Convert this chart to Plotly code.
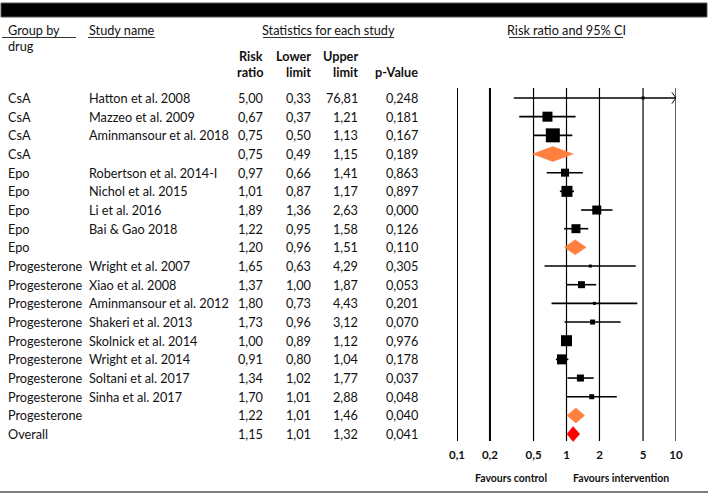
import numpy as np
import plotly.graph_objects as go

W, H = 708, 494

# ---- data ----
groups = ["CsA", "CsA", "CsA", "CsA",
          "Epo", "Epo", "Epo", "Epo", "Epo",
          "Progesterone", "Progesterone", "Progesterone", "Progesterone",
          "Progesterone", "Progesterone", "Progesterone", "Progesterone",
          "Progesterone", "Overall"]
studies = ["Hatton et al. 2008", "Mazzeo et al. 2009", "Aminmansour et al. 2018", "",
           "Robertson et al. 2014-I", "Nichol et al. 2015", "Li et al. 2016", "Bai & Gao 2018", "",
           "Wright et al. 2007", "Xiao et al. 2008", "Aminmansour et al. 2012",
           "Shakeri et al. 2013", "Skolnick et al. 2014", "Wright et al. 2014",
           "Soltani et al. 2017", "Sinha et al. 2017", "", ""]
risk_ratio = [5.00, 0.67, 0.75, 0.75, 0.97, 1.01, 1.89, 1.22, 1.20,
              1.65, 1.37, 1.80, 1.73, 1.00, 0.91, 1.34, 1.70, 1.22, 1.15]
lower_limit = [0.33, 0.37, 0.50, 0.49, 0.66, 0.87, 1.36, 0.95, 0.96,
               0.63, 1.00, 0.73, 0.96, 0.89, 0.80, 1.02, 1.01, 1.01, 1.01]
upper_limit = [76.81, 1.21, 1.13, 1.15, 1.41, 1.17, 2.63, 1.58, 1.51,
               4.29, 1.87, 4.43, 3.12, 1.12, 1.04, 1.77, 2.88, 1.46, 1.32]
p_value = [0.248, 0.181, 0.167, 0.189, 0.863, 0.897, 0.000, 0.126, 0.110,
           0.305, 0.053, 0.201, 0.070, 0.976, 0.178, 0.037, 0.048, 0.040, 0.041]
row_kind = ["study", "study", "study", "subtotal",
            "study", "study", "study", "study", "subtotal",
            "study", "study", "study", "study", "study", "study", "study", "study",
            "subtotal", "overall"]
# relative study weight (box size as drawn)
weights = [3, 10, 14, 0, 8, 11, 9, 9, 0, 3, 7, 3, 5, 11, 10, 7, 5, 0, 0]

tick_vals = [0.1, 0.2, 0.5, 1, 2, 5, 10]
tick_text = ["0,1", "0,2", "0,5", "1", "2", "5", "10"]

# ---- layout constants (pixels) ----
FONT = "Lato"
FS = 12.7
INK = "#111111"
ORANGE = "#FF7F3F"
RED = "#FF0000"
ROW0, ROWSTEP = 98, 18.67
PLOT_BOTTOM = 446
X_LEFT, X_RIGHT = 457, 676
XMIN, XMAX = 0.1, 10


def fmt(v, d=2):
    return f"{v:.{d}f}".replace(".", ",")


def px(x):
    return x / W


def py(y):
    return 1 - y / H


def row_of(pix):
    return (pix - ROW0) / ROWSTEP


n = len(risk_ratio)
rows = np.arange(n)

fig = go.Figure()

# reference lines
for v in tick_vals:
    fig.add_trace(go.Scatter(
        x=[v, v], y=[row_of(88), row_of(441)], mode="lines",
        line=dict(color="#000000", width=2 if v < 0.5 else 1.2),
        hoverinfo="skip", showlegend=False))

# studies: CI lines + boxes
for i in rows:
    if row_kind[i] != "study":
        continue
    lo = max(lower_limit[i], XMIN)
    hi = min(upper_limit[i], XMAX)
    fig.add_trace(go.Scatter(
        x=[lo, hi], y=[i, i], mode="lines",
        line=dict(color="#000000", width=1.6),
        hoverinfo="skip", showlegend=False))
    if upper_limit[i] > XMAX:
        fig.add_trace(go.Scatter(
            x=[hi / 1.09, hi, hi / 1.09], y=[i - 0.3, i, i + 0.3], mode="lines",
            line=dict(color="#000000", width=1),
            hoverinfo="skip", showlegend=False))
    fig.add_trace(go.Scatter(
        x=[risk_ratio[i]], y=[i], mode="markers",
        marker=dict(symbol="square", size=weights[i], color="#000000",
                    line=dict(width=0)),
        hovertemplate=f"{studies[i]}: RR %{{x}}<extra></extra>",
        showlegend=False))

# pooled estimates as diamonds
half_h = 7.5 / ROWSTEP
for i in rows:
    if row_kind[i] == "study":
        continue
    col = RED if row_kind[i] == "overall" else ORANGE
    fig.add_trace(go.Scatter(
        x=[lower_limit[i], risk_ratio[i], upper_limit[i], risk_ratio[i], lower_limit[i]],
        y=[i, i - half_h, i, i + half_h, i],
        mode="lines", fill="toself", fillcolor=col,
        line=dict(color=col, width=0.5),
        hoverinfo="skip", showlegend=False))

ann = []


def txt(x, y, s, anchor="left", size=FS, bold=False, yref="paper", color=INK):
    ann.append(dict(
        x=px(x), y=y, xref="paper", yref=yref, text=f"<b>{s}</b>" if bold else s,
        showarrow=False, xanchor=anchor, yanchor="middle",
        font=dict(family=FONT, size=size, color=color)))


# table rows
for i in rows:
    txt(6, i, groups[i], yref="y")
    if studies[i]:
        txt(87, i, studies[i], yref="y")
    txt(265, i, fmt(risk_ratio[i]), "right", yref="y")
    txt(313, i, fmt(lower_limit[i]), "right", yref="y")
    txt(360, i, fmt(upper_limit[i]), "right", yref="y")
    txt(420, i, fmt(p_value[i], 3), "right", yref="y")

# headers
txt(6, py(30), "Group by")
txt(6, py(46), "drug")
txt(87, py(30), "Study name")
txt(328, py(30), "Statistics for each study", "center")
txt(566, py(30), "Risk ratio and 95% CI", "center")
txt(265, py(56), "Risk", "right", bold=True)
txt(265, py(72), "ratio", "right", bold=True)
txt(313, py(56), "Lower", "right", bold=True)
txt(313, py(72), "limit", "right", bold=True)
txt(360, py(56), "Upper", "right", bold=True)
txt(360, py(72), "limit", "right", bold=True)
txt(420, py(72), "p-Value", "right", bold=True)

# favours labels
txt(511, py(478), "Favours control", "center", size=10.5, bold=True)
txt(621, py(478), "Favours intervention", "center", size=10.5, bold=True)

shapes = [
    dict(type="rect", xref="paper", yref="paper", x0=px(1), x1=px(707), y0=py(3), y1=py(17),
         fillcolor="#000000", line=dict(color="#555555", width=1)),
    dict(type="line", xref="paper", yref="paper", x0=0, x1=1, y0=py(492), y1=py(492),
         line=dict(color="#555555", width=1.5)),
]
for x0, x1 in [(2, 76), (88, 155), (263, 394), (509, 623)]:
    shapes.append(dict(type="line", xref="paper", yref="paper", x0=px(x0), x1=px(x1),
                       y0=py(37.5), y1=py(37.5), line=dict(color="#333333", width=1)))

fig.update_layout(
    width=W, height=H,
    margin=dict(l=0, r=0, t=0, b=0, autoexpand=False),
    paper_bgcolor="white", plot_bgcolor="white",
    font=dict(family=FONT, color=INK),
    annotations=ann, shapes=shapes,
    xaxis=dict(type="log", range=[np.log10(XMIN), np.log10(XMAX)],
               domain=[px(X_LEFT), px(X_RIGHT)], automargin=False,
               showgrid=False, zeroline=False, showline=False, ticks="",
               tickvals=tick_vals, ticktext=[f"<b>{t}</b>" for t in tick_text],
               tickfont=dict(family=FONT, size=11.5, color=INK)),
    yaxis=dict(range=[row_of(PLOT_BOTTOM), row_of(0)], domain=[1 - PLOT_BOTTOM / H, 1],
               visible=False, automargin=False),
    showlegend=False,
)

# the page body has a default 8px margin; drop it so the figure sits at the window corner
fig.write_html("out.html", config={"displayModeBar": False},
               post_script="document.body.style.margin='0';")
